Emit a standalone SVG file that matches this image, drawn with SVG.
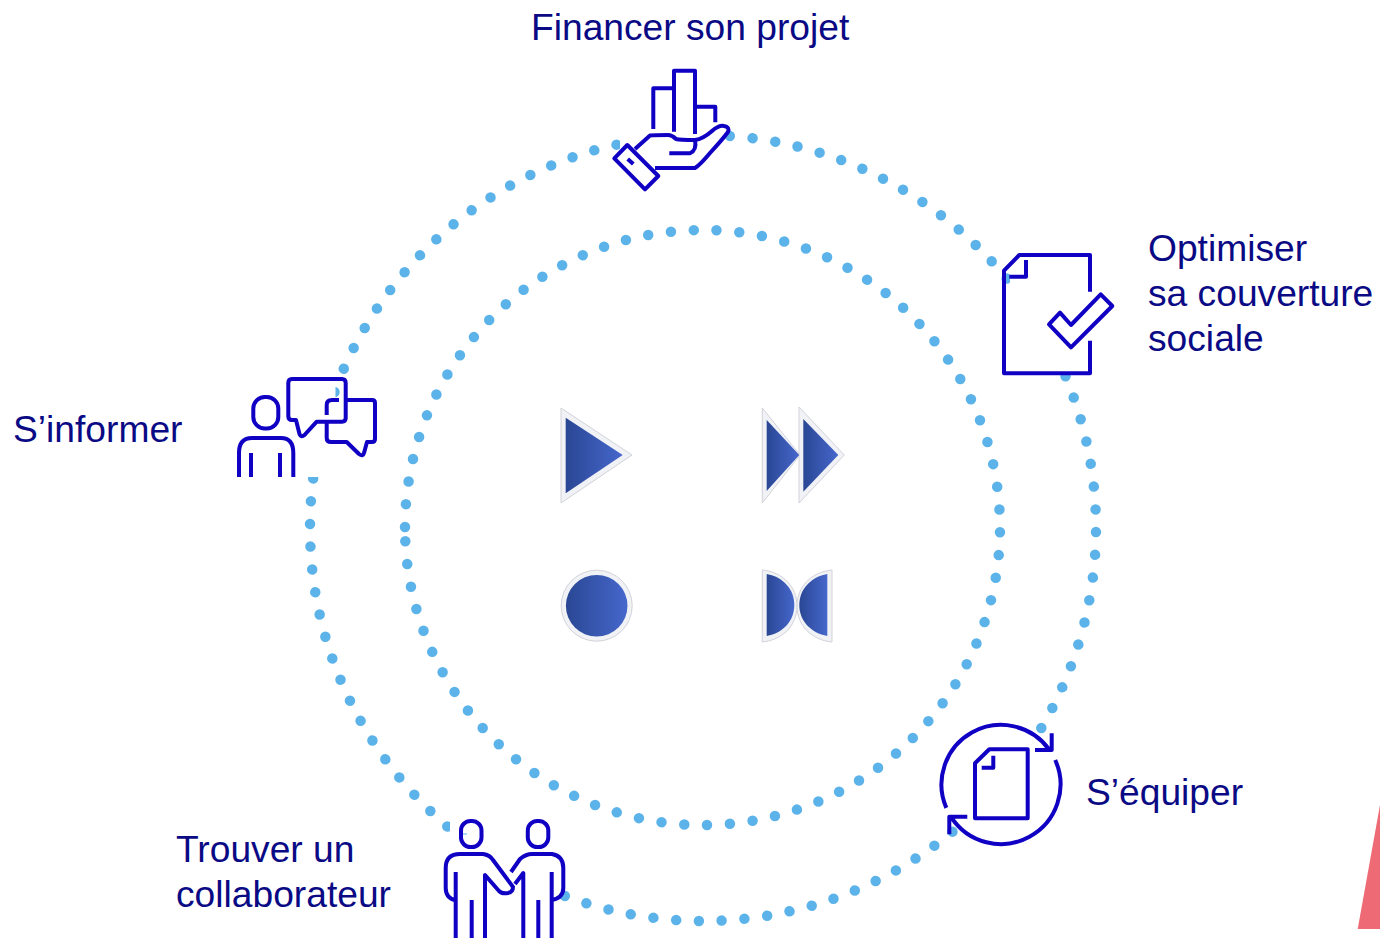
<svg xmlns="http://www.w3.org/2000/svg" width="1380" height="938" viewBox="0 0 1380 938">
<style>
.t{font-family:"Liberation Sans",Arial,sans-serif;font-size:37.2px;fill:#0a0a85}
.i{fill:none;stroke:#1000c4;stroke-width:4;stroke-linejoin:round}
.d{fill:none;stroke:#5cb3ea;stroke-width:10.5;stroke-linecap:round}
.o{fill:#f1f2f6;stroke:#d2d3d9;stroke-width:1}
.w{fill:#fff}
</style>
<defs>
<linearGradient id="g"><stop offset="0" stop-color="#2a4794"/><stop offset="1" stop-color="#4667cc"/></linearGradient>
</defs>
<rect width="1380" height="938" fill="#fff"/>
<g id="connectors">
<circle class="d" cx="703" cy="528" r="393" pathLength="1080" stroke-dasharray="0 10" transform="rotate(0.6 703 528)"/>
<circle class="d" cx="702.5" cy="527.5" r="297.5" stroke-dasharray="0 22.89" transform="rotate(180.1 702.5 527.5)"/>
</g>
<g id="centre-play"><path class="o" d="M561 408L632 455L561 503Z"/><path fill="url(#g)" d="M565.7 417.7L622.7 455L565.7 493.3Z"/></g>
<g id="centre-forward"><path class="o" d="M762.3 408L800 455L762.3 503Z"/><path class="o" d="M799 407L844.3 455L799 503Z"/><path fill="url(#g)" d="M766.7 420L799.3 455L766.7 491Z"/><path fill="url(#g)" d="M803.3 419L838.3 455L803.3 491.7Z"/></g>
<g id="centre-record"><circle class="o" cx="596.7" cy="605.7" r="35.5"/><circle fill="url(#g)" cx="596.7" cy="605.7" r="30.8"/></g>
<g id="centre-bowtie"><path class="o" d="M762.3 570C783 572 797 587 797 606C797 625 783 640 762.3 642Z"/><path class="o" d="M832 570C811 572 797 587 797 606C797 625 811 640 832 642Z"/><path fill="url(#g)" d="M766.7 574C783 577 794.3 589 794.3 605C794.3 621 783 633 766.7 636Z"/><path fill="url(#g)" d="M827.3 574C811 577 799.3 589 799.3 605C799.3 621 811 633 827.3 636Z"/></g>
<g id="financer">
<path class="w" d="M620 72H722V190H620Z"/>
<path class="i" d="M653.3 129V88.3H674M674 131.7V70.7H695V134M695 106.7H715.3V122.3"/>
<path class="i" d="M635 149L650 135.5Q654 135 668 135Q672 135 676 139Q680 140 695 140Q703 139 712 131Q719 125 724 126Q730 127 728 132Q722 140 710 153Q700 165 695 168H655"/>
<path class="i" d="M669.3 153.3H690Q697 150 695 140"/>
<path class="i" d="M627.3 145L658.3 176L645 189.3L614.3 158.3ZM627.7 159L633.3 164"/>
<text class="t" x="531" y="40">Financer son projet</text>
</g>
<g id="optimiser">
<path class="w" d="M1010 250H1114V373H1010Z"/>
<path class="i" d="M1090 291.7V255H1019.3L1004 270.7V373.3H1090V340.7"/>
<path class="i" d="M1026 260V276.7H1009.3"/>
<path class="i" d="M1060 312.7L1071 325L1100.7 294.3L1112.3 306L1071 347.3L1049 324.3Z"/>
<text class="t" x="1148" y="261">Optimiser</text>
<text class="t" x="1148" y="306">sa couverture</text>
<text class="t" x="1148" y="351">sociale</text>
</g>
<g id="informer">
<path class="w" d="M232 377H378V477H232Z"/>
<circle cx="334.5" cy="392" r="5.2" fill="#5cb3ea"/><path class="w" d="M325 384H335.5V400H325Z"/>
<rect class="i" x="253.3" y="397" width="25" height="31.5" rx="11.5"/>
<path class="i" d="M239 477V453Q239 438 252 438H281Q293.3 438 293.3 453V477M251 453V477M280 453V477"/>
<path class="i" d="M292 379H342Q345.7 379 345.7 383V418Q345.7 421.7 342 421.7H316.7L304.5 435Q301 438 299.5 434L296 420H292Q288.3 420 288.3 416V383Q288.3 379 292 379Z"/>
<path class="i" d="M326.7 415V405Q326.7 400 332 400H339M345.7 400H372Q375 400 375 403V439Q375 442 372 442H367L364 453Q363 457 359 454L346.7 442H331Q326.7 442 326.7 438V422"/>
<text class="t" x="13" y="442">S’informer</text>
</g>
<g id="equiper">
<circle class="w" cx="1001" cy="784.5" r="56"/>
<path class="i" d="M946.3 807.9A59.5 59.5 0 0 1 1049.5 750M1035 750H1051.7V733.3"/>
<path class="i" d="M1055.2 760A59.5 59.5 0 0 1 951 816.8M967.3 816.7H949.3V834.3"/>
<path class="i" d="M1027.7 749.3H989.3L975 763.3V818.3H1027.7Z"/>
<path class="i" d="M993.3 755.7V767.7H981.7"/>
<text class="t" x="1086" y="805">S’équiper</text>
</g>
<g id="collaborateur">
<path class="w" d="M450 816H560V938H450Z"/>
<path d="M463 834H467" stroke="#5cb3ea" stroke-width="1"/>
<rect class="i" x="461" y="821" width="20.5" height="26" rx="9.5"/>
<rect class="i" x="527.8" y="821" width="20.5" height="26" rx="9.5"/>
<path class="i" d="M455.7 900.5Q445.7 898 445.7 888V868Q445.7 854 460 854H483Q490 855 493 860L513 887Q513 892 508 893Q502 894 499 891L485 875V938M455.7 872V938M471.7 900V938"/>
<path class="i" d="M511 872L520 859Q526 854 532 854H552Q563.3 856 563.3 868V888Q563.3 898 551.7 900M551.7 872V938M538.3 900V938M515 884L523.3 873V938"/>
<text class="t" x="176" y="862">Trouver un</text>
<text class="t" x="176" y="907">collaborateur</text>
</g>
<path id="corner" fill="#ee6a75" d="M1380 805V929H1357.7Z"/>
</svg>
